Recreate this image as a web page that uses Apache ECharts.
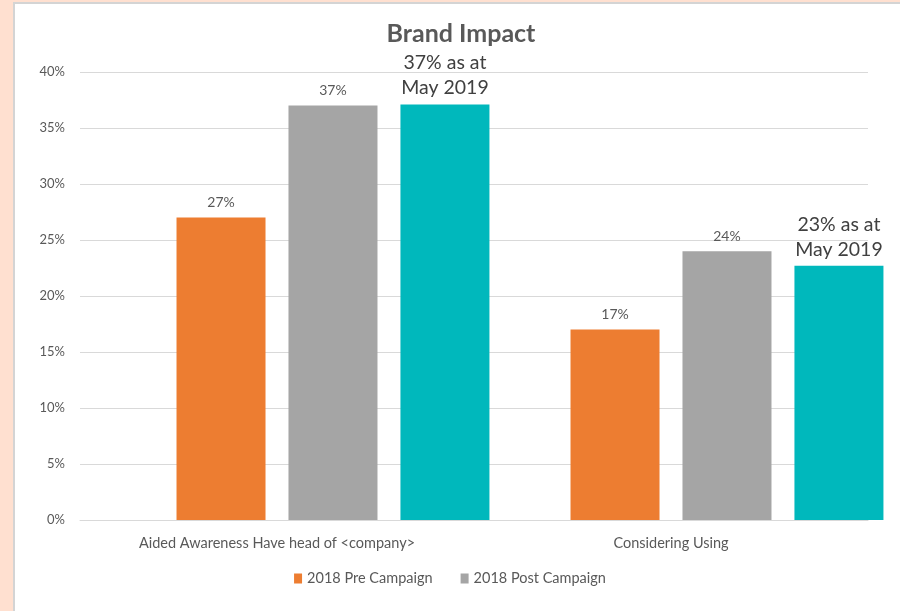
<!DOCTYPE html>
<html><head><meta charset="utf-8">
<script src="https://cdn.jsdelivr.net/npm/echarts@6/dist/echarts.min.js"></script>
<style>
html,body{margin:0;padding:0;width:900px;height:611px;overflow:hidden;background:#FFE0D0;}
#frame{position:absolute;left:13px;top:2px;width:887px;height:609px;background:#fff;border-left:2px solid #d4d4d4;border-top:2px solid #d4d4d4;box-sizing:border-box;}
#chart{position:absolute;left:0;top:0;width:900px;height:611px;}
</style></head>
<body><div id="frame"></div><div id="chart"></div>
<script>
const categories = ["Aided Awareness Have head of <company>", "Considering Using"];
const preCampaign = [27, 17];
const postCampaign = [37, 24];
const may2019 = [37.1, 22.7];
const may2019Labels = ["37% as at\nMay 2019", "23% as at\nMay 2019"];
const yTicks = [0, 5, 10, 15, 20, 25, 30, 35, 40];

const font = "Lato, 'Open Sans', sans-serif";
const chart = echarts.init(document.getElementById('chart'));
chart.setOption({
  animation: false,
  title: {text: 'Brand Impact', left: 456, top: 16, textAlign: 'center',
    textStyle: {fontFamily: font, fontSize: 25, fontWeight: 'bold', color: '#595959'}},
  grid: {left: 80, right: 32, top: 72, bottom: 91},
  legend: {data: ['2018 Pre Campaign', '2018 Post Campaign'], bottom: 20, left: 'center',
    itemWidth: 8, itemHeight: 10, itemGap: 28, icon: 'rect',
    textStyle: {fontFamily: font, fontSize: 14.5, color: '#595959'}},
  xAxis: {type: 'category', data: categories,
    axisLine: {lineStyle: {color: '#d9d9d9'}}, axisTick: {show: false},
    axisLabel: {fontFamily: font, fontSize: 14.5, color: '#595959', margin: 16}},
  yAxis: {type: 'value', min: yTicks[0], max: yTicks[yTicks.length-1], interval: 5,
    axisLabel: {formatter: v => v + '%', fontFamily: font, fontSize: 13, color: '#595959', margin: 15},
    axisLine: {show: false}, axisTick: {show: false},
    splitLine: {lineStyle: {color: '#d9d9d9'}}},
  series: [
    {name: 'placeholder', type: 'bar', data: categories.map(() => null), barWidth: 89, barGap: '25.8%'},
    {name: '2018 Pre Campaign', type: 'bar', data: preCampaign, barWidth: 89, barGap: '25.8%',
      itemStyle: {color: '#ED7D31'},
      label: {show: true, position: 'top', distance: 8, formatter: p => p.value + '%',
        fontFamily: font, fontSize: 14, color: '#595959'}},
    {name: '2018 Post Campaign', type: 'bar', data: postCampaign, barWidth: 89, barGap: '25.8%',
      itemStyle: {color: '#A5A5A5'},
      label: {show: true, position: 'top', distance: 8, formatter: p => p.value + '%',
        fontFamily: font, fontSize: 14, color: '#595959'}},
    {name: 'May 2019', type: 'bar', data: may2019, barWidth: 89, barGap: '25.8%', clip: false,
      itemStyle: {color: '#00B8BC'},
      label: {show: true, position: 'top', distance: 4, formatter: p => may2019Labels[p.dataIndex],
        fontFamily: font, fontSize: 19.5, lineHeight: 25, color: '#404040'}}
  ]
});
</script></body></html>
